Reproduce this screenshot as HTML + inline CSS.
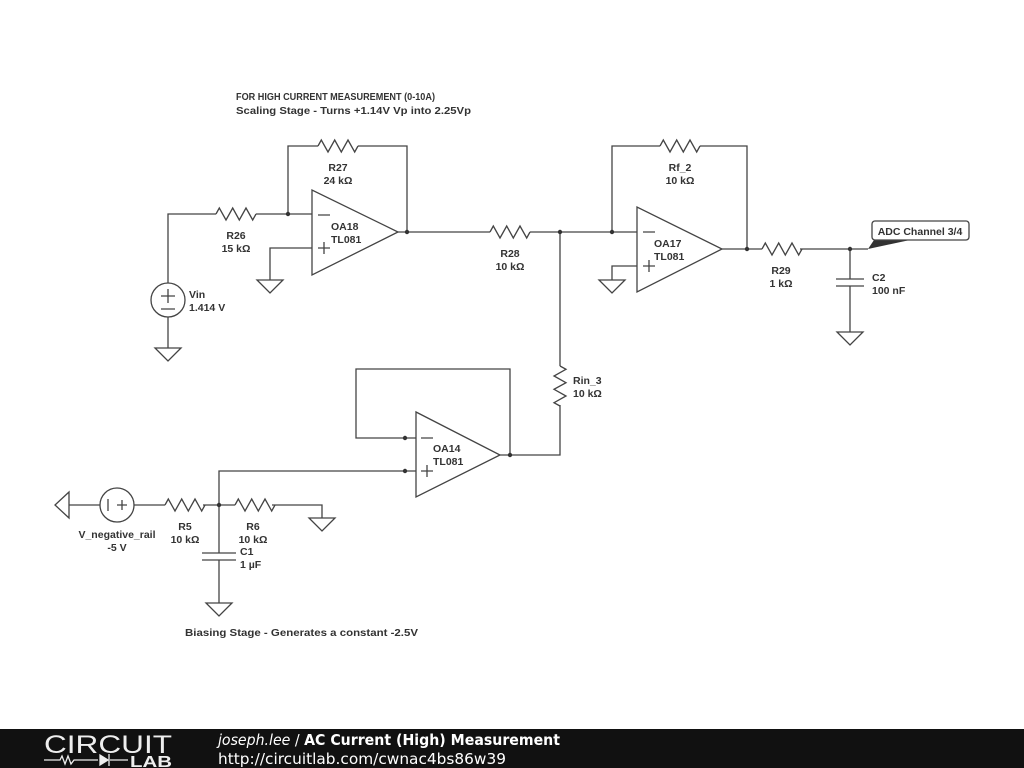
<!DOCTYPE html>
<html><head><meta charset="utf-8"><style>
html,body{margin:0;padding:0;background:#fff;}
svg{display:block}
text{font-family:"Liberation Sans",Arial,sans-serif;font-weight:bold;font-size:10.5px;fill:#333}
</style></head><body>
<svg width="1024" height="768" viewBox="0 0 1024 768">
<defs>
<path id="rz" d="M0 0 L3.3 -6 L10 6 L16.7 -6 L23.3 6 L30 -6 L36.7 6 L40 0" fill="none" stroke="#444" stroke-width="1.3"/>
<path id="gnd" d="M-13 0 L13 0 L0 13 Z" fill="#fff" stroke="#444" stroke-width="1.3"/>
</defs>
<g fill="none" stroke="#444" stroke-width="1.3">
<path d="M168 283 V214 H216 M256 214 H312 M288 214 V146 H318 M358 146 H407 V232 M398 232 H490 M530 232 H637"/>
<path d="M312 190 L312 275 L398 232 Z"/>
<path d="M312 248 H270 V280"/>
<circle cx="168" cy="300" r="17"/>
<path d="M168 317 V348"/>
<path d="M612 232 V146 H660 M700 146 H747 V249 M722 249 H762 M800 249 H868"/>
<path d="M637 207 L637 292 L722 249 Z"/>
<path d="M637 266 H612 V280"/>
<path d="M850 249 V279 M836 279 H864 M836 286 H864 M850 286 V332"/>
<path d="M560 232 V366 M560 405 V455 H500"/>
<path d="M416 412 L416 497 L500 455 Z"/>
<path d="M416 438 H356 V369 H510 V455"/>
<path d="M416 471 H219 V553 M202 553 H236 M202 560 H236 M219 560 V603"/>
<path d="M69 505 H100 M134 505 H165 M203 505 H235 M272 505 H322 V518"/>
<circle cx="117" cy="505" r="17"/>
<path d="M69 492 L55 505 L69 518 Z" fill="#fff"/>
<path d="M108 499 V511 M117 505 H127 M122 500 V510"/>
<path d="M318 215 H330 M318 248 H330 M324 242 V254"/>
<path d="M643 232 H655 M643 266 H655 M649 260 V272"/>
<path d="M421 438 H433 M421 471 H433 M427 465 V477"/>
<path d="M161 296 H175 M168 289 V303 M161 309 H175"/>
</g>
<use href="#rz" transform="translate(216,214)"/>
<use href="#rz" transform="translate(318,146)"/>
<use href="#rz" transform="translate(490,232)"/>
<use href="#rz" transform="translate(660,146)"/>
<use href="#rz" transform="translate(762,249)"/>
<use href="#rz" transform="translate(560,366) rotate(90)"/>
<use href="#rz" transform="translate(165,505)"/>
<use href="#rz" transform="translate(235,505)"/>
<use href="#gnd" transform="translate(168,348)"/>
<use href="#gnd" transform="translate(270,280)"/>
<use href="#gnd" transform="translate(612,280)"/>
<use href="#gnd" transform="translate(850,332)"/>
<use href="#gnd" transform="translate(322,518)"/>
<use href="#gnd" transform="translate(219,603)"/>
<g fill="#333">
<circle cx="288" cy="214" r="2.2"/><circle cx="407" cy="232" r="2.2"/><circle cx="560" cy="232" r="2.2"/>
<circle cx="612" cy="232" r="2.2"/><circle cx="747" cy="249" r="2.2"/><circle cx="850" cy="249" r="2.2"/>
<circle cx="405" cy="438" r="2.2"/><circle cx="405" cy="471" r="2.2"/><circle cx="510" cy="455" r="2.2"/>
<circle cx="219" cy="505" r="2.2"/>
</g>
<path d="M868 249 L874 240 L910 240 Z" fill="#333"/>
<rect x="872" y="221" width="97" height="19" rx="3" fill="#fff" stroke="#444" stroke-width="1.3"/>
<text x="920" y="235" text-anchor="middle" font-size="11">ADC Channel 3/4</text>
<text x="236" y="100" textLength="199" lengthAdjust="spacingAndGlyphs">FOR HIGH CURRENT MEASUREMENT (0-10A)</text>
<text x="236" y="114" textLength="235" lengthAdjust="spacingAndGlyphs">Scaling Stage - Turns +1.14V Vp into 2.25Vp</text>
<text x="338" y="171" text-anchor="middle">R27</text><text x="338" y="184" text-anchor="middle">24 kΩ</text>
<text x="236" y="239" text-anchor="middle">R26</text><text x="236" y="252" text-anchor="middle">15 kΩ</text>
<text x="331" y="230">OA18</text><text x="331" y="243">TL081</text>
<text x="189" y="298">Vin</text><text x="189" y="311">1.414 V</text>
<text x="510" y="257" text-anchor="middle">R28</text><text x="510" y="270" text-anchor="middle">10 kΩ</text>
<text x="680" y="171" text-anchor="middle">Rf_2</text><text x="680" y="184" text-anchor="middle">10 kΩ</text>
<text x="654" y="247">OA17</text><text x="654" y="260">TL081</text>
<text x="781" y="274" text-anchor="middle">R29</text><text x="781" y="287" text-anchor="middle">1 kΩ</text>
<text x="872" y="281">C2</text><text x="872" y="294">100 nF</text>
<text x="573" y="384">Rin_3</text><text x="573" y="397">10 kΩ</text>
<text x="433" y="452">OA14</text><text x="433" y="465">TL081</text>
<text x="117" y="538" text-anchor="middle">V_negative_rail</text><text x="117" y="551" text-anchor="middle">-5 V</text>
<text x="185" y="530" text-anchor="middle">R5</text><text x="185" y="543" text-anchor="middle">10 kΩ</text>
<text x="253" y="530" text-anchor="middle">R6</text><text x="253" y="543" text-anchor="middle">10 kΩ</text>
<text x="240" y="555">C1</text><text x="240" y="568">1 µF</text>
<text x="185" y="636" textLength="233" lengthAdjust="spacingAndGlyphs">Biasing Stage - Generates a constant -2.5V</text>
<rect x="0" y="729" width="1024" height="39" fill="#111"/>
<text x="44" y="753" textLength="128" lengthAdjust="spacingAndGlyphs" style="font-weight:normal;font-size:25px;fill:#eee">CIRCUIT</text>
<g stroke="#eee" stroke-width="1.3" fill="none">
<path d="M44 760 H60 L62 756 L65 764 L68 756 L71 764 L74 760 H98 M110 760 H128"/>
<path d="M100 755 L108 760 L100 765 Z" fill="#eee"/><path d="M109 754 V766"/>
</g>
<text x="130" y="767" textLength="42" lengthAdjust="spacingAndGlyphs" style="font-size:16px;fill:#eee">LAB</text>
<text x="218" y="745" textLength="342" lengthAdjust="spacingAndGlyphs" style="font-family:'DejaVu Sans',sans-serif;font-size:15px;fill:#fff"><tspan style="font-style:italic;font-weight:normal;fill:#fff">joseph.lee</tspan><tspan style="font-weight:normal;fill:#fff"> / </tspan>AC Current (High) Measurement</text>
<text x="218" y="764" textLength="288" lengthAdjust="spacingAndGlyphs" style="font-family:'DejaVu Sans',sans-serif;font-size:15px;font-weight:normal;fill:#fff">http://circuitlab.com/cwnac4bs86w39</text>
</svg>
</body></html>
